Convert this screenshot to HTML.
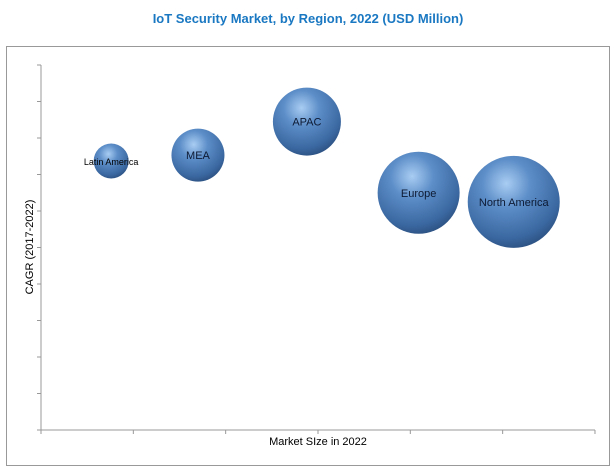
<!DOCTYPE html>
<html><head><meta charset="utf-8"><style>
body{margin:0;background:#fff;width:616px;height:471px;overflow:hidden}
svg{display:block;font-family:"Liberation Sans",sans-serif}
</style></head><body>
<svg id="c" width="616" height="471">
<defs>
<radialGradient id="g" cx="0.42" cy="0.3" r="0.75">
<stop offset="0" stop-color="#a9cdf3"/>
<stop offset="0.35" stop-color="#5d8ec8"/>
<stop offset="0.8" stop-color="#3a67a0"/>
<stop offset="1" stop-color="#2a4d7c"/>
</radialGradient>
</defs>
<text x="308" y="23" text-anchor="middle" font-size="13" font-weight="bold" fill="#1a78c2">IoT Security Market, by Region, 2022 (USD Million)</text>
<rect x="6.5" y="46.5" width="603" height="419" fill="none" stroke="#999"/>
<line x1="41" y1="65" x2="41" y2="430" stroke="#999"/>
<line x1="41" y1="430" x2="595" y2="430" stroke="#999"/>
<g id="ticks"></g>
<text x="33" y="247" transform="rotate(-90 33 247)" text-anchor="middle" font-size="11" fill="#000">CAGR (2017-2022)</text>
<text x="318" y="445" text-anchor="middle" font-size="11" fill="#000">Market SIze in 2022</text>
<g id="bubbles"></g>
</svg>
<script>
const regions=["Latin America","MEA","APAC","Europe","North America"];
const marketSize=[0.76,1.7,2.88,4.09,5.12];
const cagr=[7.37,7.53,8.45,6.5,6.25];
const bubbleSize=[17.5,26.5,34,41,46];
const xTicks=[0,1,2,3,4,5,6];
const yTicks=[0,1,2,3,4,5,6,7,8,9,10];
const ns="http://www.w3.org/2000/svg";
const X=v=>41+v*92.33, Y=v=>430-v*36.5;
const tg=document.getElementById('ticks');
xTicks.forEach(t=>{const l=document.createElementNS(ns,'line');
l.setAttribute('x1',X(t));l.setAttribute('x2',X(t));l.setAttribute('y1',430);l.setAttribute('y2',434);l.setAttribute('stroke','#999');


tg.appendChild(l);});
yTicks.forEach(t=>{const l=document.createElementNS(ns,'line');
l.setAttribute('x1',37);l.setAttribute('x2',41);l.setAttribute('y1',Y(t));l.setAttribute('y2',Y(t));l.setAttribute('stroke','#999');


tg.appendChild(l);});
const bg=document.getElementById('bubbles');
regions.forEach((r,i)=>{
const c=document.createElementNS(ns,'circle');
c.setAttribute('cx',X(marketSize[i]));c.setAttribute('cy',Y(cagr[i]));c.setAttribute('r',bubbleSize[i]);c.setAttribute('fill','url(#g)');


bg.appendChild(c);
const t=document.createElementNS(ns,'text');
t.setAttribute('x',X(marketSize[i]));t.setAttribute('y',Y(cagr[i])+4);t.setAttribute('text-anchor','middle');
t.setAttribute('font-size',i==0?9:11);t.setAttribute('fill',i==0?'#000':'#0d1a33');
t.textContent=r;


bg.appendChild(t);
});
</script>
</body></html>
